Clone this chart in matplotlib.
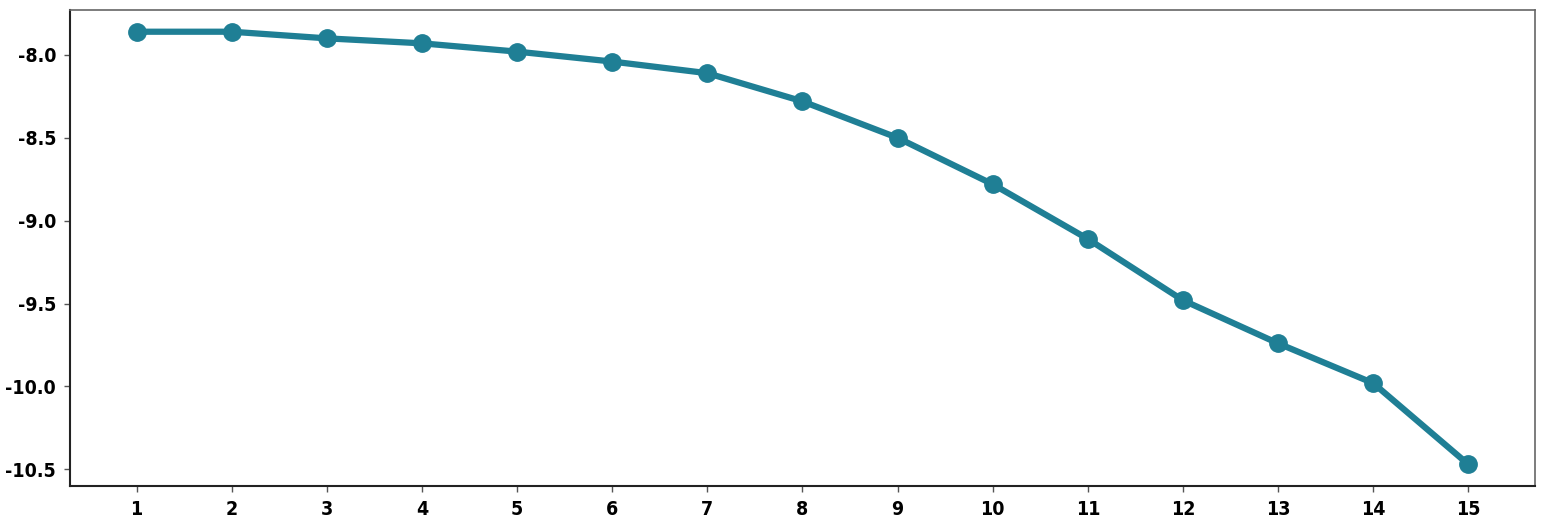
import numpy as np
import matplotlib.pyplot as plt

# values
steps = [1, 2, 3, 4, 5, 6, 7, 8, 9, 10, 11, 12, 13, 14, 15]
values = [-7.86, -7.86, -7.90, -7.93, -7.98, -8.04, -8.11, -8.28, -8.50,
          -8.78, -9.11, -9.48, -9.74, -9.98, -10.47]

plt.rcParams['font.family'] = ['DejaVu Sans Condensed', 'Liberation Sans Narrow', 'DejaVu Sans']
plt.rcParams['font.stretch'] = 'condensed'

fig = plt.figure(figsize=(15.47, 5.31), dpi=100)
ax = fig.add_axes([0.0452, 0.0847, 0.9470, 0.8963])

ax.plot(steps, values, color='#1f7f95', linewidth=4.5, marker='o', markersize=12.5)

ax.set_xticks(steps)
ax.set_yticks([-8.0, -8.5, -9.0, -9.5, -10.0, -10.5])
ax.set_yticklabels(['-8.0', '-8.5', '-9.0', '-9.5', '-10.0', '-10.5'])
for lab in ax.get_xticklabels() + ax.get_yticklabels():
    lab.set_fontweight('bold')
    lab.set_fontsize(14)
ax.tick_params(axis='both', length=4, width=1, color='#555555', pad=6)

for side in ['left', 'bottom']:
    ax.spines[side].set_color('#222222')
    ax.spines[side].set_linewidth(1.5)
for side in ['top', 'right']:
    ax.spines[side].set_color('#666666')
    ax.spines[side].set_linewidth(1.2)

fig.savefig('out.png', dpi=100)
